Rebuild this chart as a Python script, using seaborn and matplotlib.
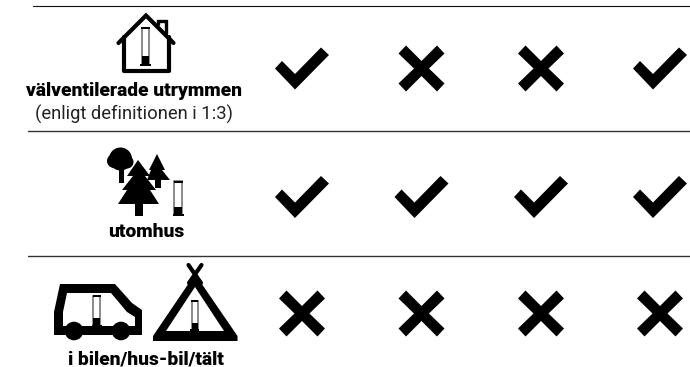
import numpy as np
import pandas as pd
import matplotlib
matplotlib.use("Agg")
import matplotlib.pyplot as plt
from matplotlib.path import Path
from matplotlib.patches import Polygon, Circle, Rectangle
import seaborn as sns

sns.set_theme(style="white")
plt.rcParams["font.family"] = ["Roboto", "DejaVu Sans"]

# data : 1 = check, 0 = cross
row_labels = ["välventilerade utrymmen", "utomhus", "i bilen/hus-bil/tält"]
row_note = "(enligt definitionen i 1:3)"
row1_ok = [1, 0, 0, 1]
row2_ok = [1, 1, 1, 1]
row3_ok = [0, 0, 0, 0]

# layout, pixels
COL_X = [302, 421.5, 541, 660]
ROW_Y = [68.5, 197, 313.5]

CHECK = Path(np.array([[-27, 0], [-20, 7.5], [-7, -5.5], [19, 21], [27, 13.5], [-7, -21], [-27, 0]], float),
             closed=True)
CROSS = Path(np.array([[-23, 15], [-15.5, 23], [0, 7.5], [15.5, 23], [23, 15], [7.5, 0], [23, -15], [15.5, -23],
                       [0, -7.5], [-15.5, -23], [-23, -15], [-7.5, 0], [-23, 15]], float), closed=True)

df = pd.DataFrame({
    "x": COL_X * 3,
    "y": np.repeat(ROW_Y, 4),
    "ok": row1_ok + row2_ok + row3_ok,
})

fig = plt.figure(figsize=(6.9, 3.67), dpi=100)
ax = fig.add_axes([0, 0, 1, 1])

sns.scatterplot(data=df[df["ok"] == 1], x="x", y="y", marker=CHECK, s=1512, color="black",
                linewidth=0, edgecolor="none", ax=ax)
sns.scatterplot(data=df[df["ok"] == 0], x="x", y="y", marker=CROSS, s=1097, color="black",
                linewidth=0, edgecolor="none", ax=ax)

ax.set_xlim(0, 690)
ax.set_ylim(367, 0)
ax.axis("off")

# separators
ax.plot([33, 690], [5.5, 5.5], color="#111111", lw=0.8)
ax.plot([28, 690], [131, 131], color="#333333", lw=1.0)
ax.plot([28, 690], [256, 256], color="#333333", lw=1.0)

K = "black"


def poly(pts, fc=K, **kw):
    ax.add_patch(Polygon(pts, closed=True, fc=fc, ec="none", **kw))


def burner(xc, top, block, bot, w):
    ax.add_patch(Rectangle((xc - w / 2, top), w, bot - top, fc="white", ec="#777777", lw=1.2))
    ax.add_patch(Rectangle((xc - w / 2 - 0.5, top - 0.5), w + 1, 2, fc=K, ec="none"))
    ax.add_patch(Rectangle((xc - w / 2, block), w, bot - block, fc=K, ec="none"))
    ax.add_patch(Rectangle((xc - w / 2 - 1.5, bot - 1), w + 3, 2, fc=K, ec="none"))


# house
ax.plot([118.5, 146, 173.5], [43, 15.5, 43], color=K, lw=3, solid_joinstyle="miter", solid_capstyle="round")
ax.plot([124, 124, 169, 169], [37, 71, 71, 37], color=K, lw=3, solid_joinstyle="round")
ax.plot([158, 158, 165.5, 165.5], [24, 20.5, 20.5, 33], color=K, lw=2.4, solid_joinstyle="miter")
burner(145.5, 27.5, 56, 65, 7.5)

# trees
ax.add_patch(Rectangle((119, 165), 4.5, 18, fc=K, ec="none"))
for cx, cy, r in [(120.5, 159, 11.5), (114, 161, 7), (127, 162, 6.5)]:
    ax.add_patch(Circle((cx, cy), r, fc=K, ec="none"))
poly([(157, 154), (165, 170), (162, 170), (170, 180), (161, 180), (161, 188), (155, 188), (155, 180),
      (147, 180), (151, 170), (149, 170)])
poly([(138, 160), (150, 176), (145, 176), (156, 190), (150, 190), (159, 204), (143, 204), (143, 216),
      (135, 216), (135, 204), (118, 204), (127, 190), (122, 190), (133, 176), (127, 176)],
     zorder=3)
burner(178, 181, 207, 215, 8)

# van
poly([(60, 284), (115, 284), (132, 303), (142, 310), (142, 335), (54, 335), (54, 312)])
poly([(67, 293), (111, 293), (127, 312), (135, 317), (135, 326), (63, 326), (63, 312)], fc="white")
for cx in (74, 121):
    ax.add_patch(Circle((cx, 331), 9.3, fc=K, ec="none"))
burner(96.5, 295.5, 318, 326, 7)

# tent
ax.plot([188.5, 201], [265, 283], color=K, lw=3)
ax.plot([201.5, 189], [265, 283], color=K, lw=3)
poly([(195, 274), (237.5, 336), (237.5, 341), (153, 341), (153, 336)])
poly([(195, 287), (224, 331), (166, 331)], fc="white")
burner(194.5, 300.5, 323, 330, 6)

# labels
ax.text(134, 91, row_labels[0], ha="center", va="center", fontsize=13.8, fontweight="black", color=K)
ax.text(134, 114, row_note, ha="center", va="center", fontsize=13.2, color="#222222")
ax.text(146, 232, row_labels[1], ha="center", va="center", fontsize=13.8, fontweight="black", color=K)
ax.text(146, 364, row_labels[2], ha="center", va="baseline", fontsize=13.8, fontweight="black", color=K)

plt.savefig("out.png", dpi=100)
